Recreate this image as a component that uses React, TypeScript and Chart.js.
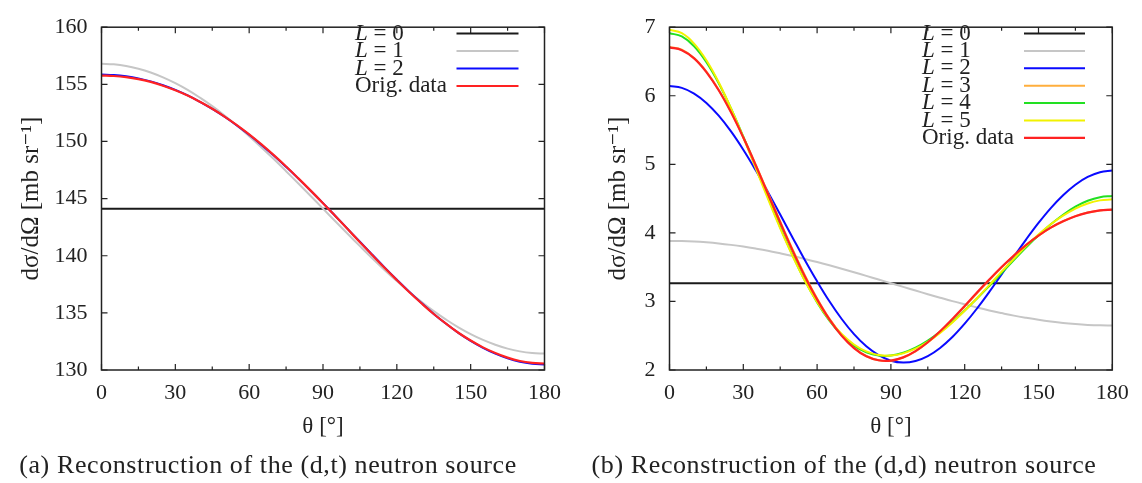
import React, { useEffect, useRef } from 'react';
import { Chart, registerables } from 'chart.js';

Chart.register(...registerables);

// ---------- data ----------
const THETA = [0, 5, 10, 15, 20, 25, 30, 35, 40, 45, 50, 55, 60, 65, 70, 75, 80, 85, 90, 95, 100, 105, 110, 115, 120, 125, 130, 135, 140, 145, 150, 155, 160, 165, 170, 175, 180];
const X_TICKS = [0, 30, 60, 90, 120, 150, 180];
const DT_Y_TICKS = [130, 135, 140, 145, 150, 155, 160];
const DD_Y_TICKS = [2, 3, 4, 5, 6, 7];

// (d,t) source
const DT_L0 = [144.12, 144.12, 144.12, 144.12, 144.12, 144.12, 144.12, 144.12, 144.12, 144.12, 144.12, 144.12, 144.12, 144.12, 144.12, 144.12, 144.12, 144.12, 144.12, 144.12, 144.12, 144.12, 144.12, 144.12, 144.12, 144.12, 144.12, 144.12, 144.12, 144.12, 144.12, 144.12, 144.12, 144.12, 144.12, 144.12, 144.12];
const DT_L1 = [156.8, 156.75, 156.61, 156.37, 156.04, 155.61, 155.1, 154.51, 153.83, 153.09, 152.27, 151.39, 150.46, 149.48, 148.46, 147.4, 146.32, 145.23, 144.12, 143.02, 141.92, 140.84, 139.78, 138.76, 137.78, 136.85, 135.97, 135.15, 134.41, 133.73, 133.14, 132.63, 132.21, 131.87, 131.63, 131.49, 131.44];
const DT_L2 = [155.85, 155.81, 155.7, 155.52, 155.26, 154.92, 154.51, 154.03, 153.47, 152.85, 152.16, 151.4, 150.58, 149.7, 148.77, 147.78, 146.75, 145.69, 144.6, 143.48, 142.35, 141.22, 140.09, 138.98, 137.9, 136.86, 135.86, 134.91, 134.05, 133.25, 132.55, 131.94, 131.43, 131.02, 130.72, 130.55, 130.49];
const DT_ORIG = [155.77, 155.73, 155.63, 155.46, 155.21, 154.88, 154.48, 154.02, 153.47, 152.86, 152.18, 151.43, 150.62, 149.74, 148.8, 147.81, 146.77, 145.7, 144.6, 143.47, 142.33, 141.19, 140.06, 138.94, 137.87, 136.83, 135.84, 134.9, 134.05, 133.26, 132.58, 131.98, 131.48, 131.08, 130.79, 130.63, 130.57];

// (d,d) source
const DD_L0 = [3.265, 3.265, 3.265, 3.265, 3.265, 3.265, 3.265, 3.265, 3.265, 3.265, 3.265, 3.265, 3.265, 3.265, 3.265, 3.265, 3.265, 3.265, 3.265, 3.265, 3.265, 3.265, 3.265, 3.265, 3.265, 3.265, 3.265, 3.265, 3.265, 3.265, 3.265, 3.265, 3.265, 3.265, 3.265, 3.265, 3.265];
const DD_L1 = [3.883, 3.881, 3.874, 3.862, 3.846, 3.825, 3.8, 3.771, 3.739, 3.702, 3.663, 3.62, 3.575, 3.527, 3.477, 3.426, 3.373, 3.32, 3.266, 3.212, 3.159, 3.106, 3.055, 3.005, 2.958, 2.912, 2.869, 2.83, 2.793, 2.761, 2.732, 2.707, 2.686, 2.67, 2.658, 2.651, 2.649];
const DD_L2 = [6.143, 6.115, 6.032, 5.895, 5.709, 5.48, 5.213, 4.916, 4.598, 4.267, 3.934, 3.605, 3.293, 3.003, 2.744, 2.523, 2.345, 2.216, 2.136, 2.108, 2.131, 2.203, 2.322, 2.481, 2.676, 2.897, 3.14, 3.395, 3.652, 3.906, 4.145, 4.362, 4.549, 4.703, 4.816, 4.885, 4.909];
const DD_L3 = [6.713, 6.672, 6.551, 6.353, 6.088, 5.766, 5.398, 4.999, 4.584, 4.166, 3.763, 3.384, 3.044, 2.749, 2.509, 2.326, 2.204, 2.142, 2.136, 2.182, 2.272, 2.4, 2.557, 2.735, 2.925, 3.119, 3.311, 3.496, 3.666, 3.823, 3.96, 4.076, 4.17, 4.245, 4.297, 4.328, 4.339];
const DD_L4 = [6.913, 6.865, 6.722, 6.49, 6.183, 5.815, 5.403, 4.965, 4.52, 4.085, 3.678, 3.307, 2.986, 2.718, 2.508, 2.355, 2.257, 2.211, 2.211, 2.251, 2.325, 2.429, 2.556, 2.704, 2.867, 3.042, 3.226, 3.415, 3.602, 3.789, 3.965, 4.125, 4.265, 4.382, 4.468, 4.521, 4.539];
const DD_L5 = [6.963, 6.912, 6.761, 6.517, 6.197, 5.815, 5.392, 4.947, 4.499, 4.066, 3.665, 3.303, 2.991, 2.73, 2.524, 2.372, 2.271, 2.219, 2.211, 2.243, 2.311, 2.412, 2.54, 2.692, 2.863, 3.046, 3.239, 3.434, 3.623, 3.808, 3.976, 4.125, 4.251, 4.355, 4.429, 4.474, 4.489];
const DD_ORIG = [6.706, 6.665, 6.545, 6.345, 6.08, 5.758, 5.39, 4.99, 4.57, 4.152, 3.745, 3.368, 3.03, 2.738, 2.5, 2.32, 2.2, 2.142, 2.137, 2.184, 2.275, 2.405, 2.565, 2.745, 2.935, 3.13, 3.32, 3.502, 3.67, 3.826, 3.96, 4.076, 4.168, 4.243, 4.295, 4.328, 4.339];

const DT_LABELS = ['L = 0', 'L = 1', 'L = 2', 'Orig. data'];
const DD_LABELS = ['L = 0', 'L = 1', 'L = 2', 'L = 3', 'L = 4', 'L = 5', 'Orig. data'];

const CAPTION_A = '(a) Reconstruction of the (d,t) neutron source';
const CAPTION_B = '(b) Reconstruction of the (d,d) neutron source';
const X_TITLE = 'θ [°]';
const Y_TITLE = 'dσ/dΩ [mb sr⁻¹]';

// ---------- style ----------
const FONT = '"Liberation Serif", "DejaVu Serif", serif';
const TXT = '#222';
const COLORS = {
  black: '#1a1a1a',
  gray: '#c6c6c6',
  blue: '#0a0aff',
  orange: '#ffae3c',
  green: '#22e022',
  yellow: '#f2f200',
  red: '#ff2222',
};

type Series = { label: string; data: number[]; color: string; width: number };

const gnuplotPlugin = {
  id: 'gnuFrame',
  afterDraw(chart: any, _args: any, opts: any) {
    const { ctx, chartArea: a, scales } = chart;
    const xs = scales.x;
    const ys = scales.y;
    ctx.save();
    // frame
    ctx.strokeStyle = '#222';
    ctx.lineWidth = 1.5;
    ctx.strokeRect(a.left, a.top, a.right - a.left, a.bottom - a.top);
    // ticks (inward, mirrored)
    ctx.lineWidth = 1.2;
    ctx.beginPath();
    const xt: number[] = opts.xTicks;
    for (let i = 0; i < xt.length; i++) {
      const px = xs.getPixelForValue(xt[i]);
      ctx.moveTo(px, a.bottom); ctx.lineTo(px, a.bottom - 6);
      ctx.moveTo(px, a.top); ctx.lineTo(px, a.top + 6);
      if (i < xt.length - 1) {
        const pm = xs.getPixelForValue((xt[i] + xt[i + 1]) / 2);
        ctx.moveTo(pm, a.bottom); ctx.lineTo(pm, a.bottom - 3.5);
        ctx.moveTo(pm, a.top); ctx.lineTo(pm, a.top + 3.5);
      }
    }
    const yt: number[] = opts.yTicks;
    for (const v of yt) {
      const py = ys.getPixelForValue(v);
      ctx.moveTo(a.left, py); ctx.lineTo(a.left + 6, py);
      ctx.moveTo(a.right, py); ctx.lineTo(a.right - 6, py);
    }
    ctx.stroke();

    // legend (gnuplot style: text then line sample)
    const lg = opts.legend;
    ctx.textBaseline = 'middle';
    ctx.textAlign = 'left';
    chart.data.datasets.forEach((ds: any, i: number) => {
      const y = lg.top + i * lg.row;
      const label: string = ds.label;
      ctx.fillStyle = TXT;
      if (label.startsWith('L ')) {
        ctx.font = `italic 23px ${FONT}`;
        ctx.fillText('L', lg.textX, y);
        const w = ctx.measureText('L').width;
        ctx.font = `23px ${FONT}`;
        ctx.fillText(label.slice(1), lg.textX + w, y);
      } else {
        ctx.font = `23px ${FONT}`;
        ctx.fillText(label, lg.textX, y);
      }
      ctx.strokeStyle = ds.borderColor;
      ctx.lineWidth = ds.borderWidth;
      ctx.beginPath();
      ctx.moveTo(lg.x1, y);
      ctx.lineTo(lg.x2, y);
      ctx.stroke();
    });
    ctx.restore();
  },
};

type Geo = {
  padLeft: number; padRight: number; yWidth: number;
  legend: { textX: number; x1: number; x2: number; top: number; row: number };
};

function buildChart(canvas: HTMLCanvasElement, series: Series[], yMin: number, yMax: number, yStep: number, yTicks: number[], geo: Geo) {
  const datasets = series.map((s, i) => ({
    label: s.label,
    data: THETA.map((x, j) => ({ x, y: s.data[j] })),
    borderColor: s.color,
    backgroundColor: s.color,
    borderWidth: s.width,
    pointRadius: 0,
    pointHoverRadius: 0,
    tension: 0.4,
    fill: false,
    order: series.length - i,
  }));
  return new Chart(canvas, {
    type: 'line',
    data: { datasets },
    plugins: [gnuplotPlugin],
    options: {
      animation: false,
      responsive: false,
      devicePixelRatio: 1,
      events: [],
      layout: { padding: { left: geo.padLeft, right: geo.padRight, top: 18.5, bottom: 38 } },
      plugins: {
        legend: { display: false },
        tooltip: { enabled: false },
        gnuFrame: { xTicks: X_TICKS, yTicks, legend: geo.legend },
      } as any,
      scales: {
        x: {
          type: 'linear',
          min: 0,
          max: 180,
          afterFit: (s: any) => { s.height = 75; },
          afterBuildTicks: (s: any) => { s.ticks = X_TICKS.map((v) => ({ value: v })); },
          ticks: { color: TXT, font: { family: FONT, size: 22 }, padding: 10, maxRotation: 0, autoSkip: false },
          grid: { display: false, drawTicks: false },
          border: { display: false },
          title: { display: true, text: X_TITLE, color: TXT, font: { family: FONT, size: 23 }, padding: { top: 0, bottom: 4 } },
        },
        y: {
          type: 'linear',
          min: yMin,
          max: yMax,
          afterFit: (s: any) => { s.width = geo.yWidth; },
          ticks: { stepSize: yStep, color: TXT, font: { family: FONT, size: 22 }, padding: 14 },
          grid: { display: false, drawTicks: false },
          border: { display: false },
          title: { display: true, text: Y_TITLE, color: TXT, font: { family: FONT, size: 25 }, padding: { top: 0, bottom: 0 } },
        },
      },
    } as any,
  });
}

export default function App() {
  const leftRef = useRef<HTMLCanvasElement>(null);
  const rightRef = useRef<HTMLCanvasElement>(null);

  useEffect(() => {
    const dt: Series[] = [
      { label: DT_LABELS[0], data: DT_L0, color: COLORS.black, width: 2 },
      { label: DT_LABELS[1], data: DT_L1, color: COLORS.gray, width: 2 },
      { label: DT_LABELS[2], data: DT_L2, color: COLORS.blue, width: 2 },
      { label: DT_LABELS[3], data: DT_ORIG, color: COLORS.red, width: 2.2 },
    ];
    const dd: Series[] = [
      { label: DD_LABELS[0], data: DD_L0, color: COLORS.black, width: 2 },
      { label: DD_LABELS[1], data: DD_L1, color: COLORS.gray, width: 2 },
      { label: DD_LABELS[2], data: DD_L2, color: COLORS.blue, width: 2 },
      { label: DD_LABELS[3], data: DD_L3, color: COLORS.orange, width: 2 },
      { label: DD_LABELS[4], data: DD_L4, color: COLORS.green, width: 2 },
      { label: DD_LABELS[5], data: DD_L5, color: COLORS.yellow, width: 2 },
      { label: DD_LABELS[6], data: DD_ORIG, color: COLORS.red, width: 2.2 },
    ];
    const c1 = buildChart(leftRef.current!, dt, 130, 160, 5, DT_Y_TICKS, {
      padLeft: 16, padRight: 24.5, yWidth: 85.5,
      legend: { textX: 355, x1: 456.5, x2: 518.5, top: 33.5, row: 17.5 },
    });
    const c2 = buildChart(rightRef.current!, dd, 2, 7, 1, DD_Y_TICKS, {
      padLeft: 32, padRight: 29.7, yWidth: 66.5,
      legend: { textX: 351, x1: 453, x2: 514, top: 33.5, row: 17.4 },
    });
    return () => { c1.destroy(); c2.destroy(); };
  }, []);

  const capStyle: React.CSSProperties = {
    position: 'absolute',
    top: 450,
    fontFamily: FONT,
    fontSize: 26,
    letterSpacing: 0.6,
    color: TXT,
    whiteSpace: 'nowrap',
    transform: 'translateX(-50%)',
    lineHeight: '30px',
  };

  return (
    <div style={{ position: 'absolute', left: 0, top: 0, width: 1142, height: 483, background: '#fff', overflow: 'hidden' }}>
      <canvas ref={leftRef} width={571} height={483} style={{ position: 'absolute', left: 0, top: 0, width: 571, height: 483 }} />
      <canvas ref={rightRef} width={571} height={483} style={{ position: 'absolute', left: 571, top: 0, width: 571, height: 483 }} />
      <div style={{ ...capStyle, left: 268 }}>{CAPTION_A}</div>
      <div style={{ ...capStyle, left: 844 }}>{CAPTION_B}</div>
    </div>
  );
}
